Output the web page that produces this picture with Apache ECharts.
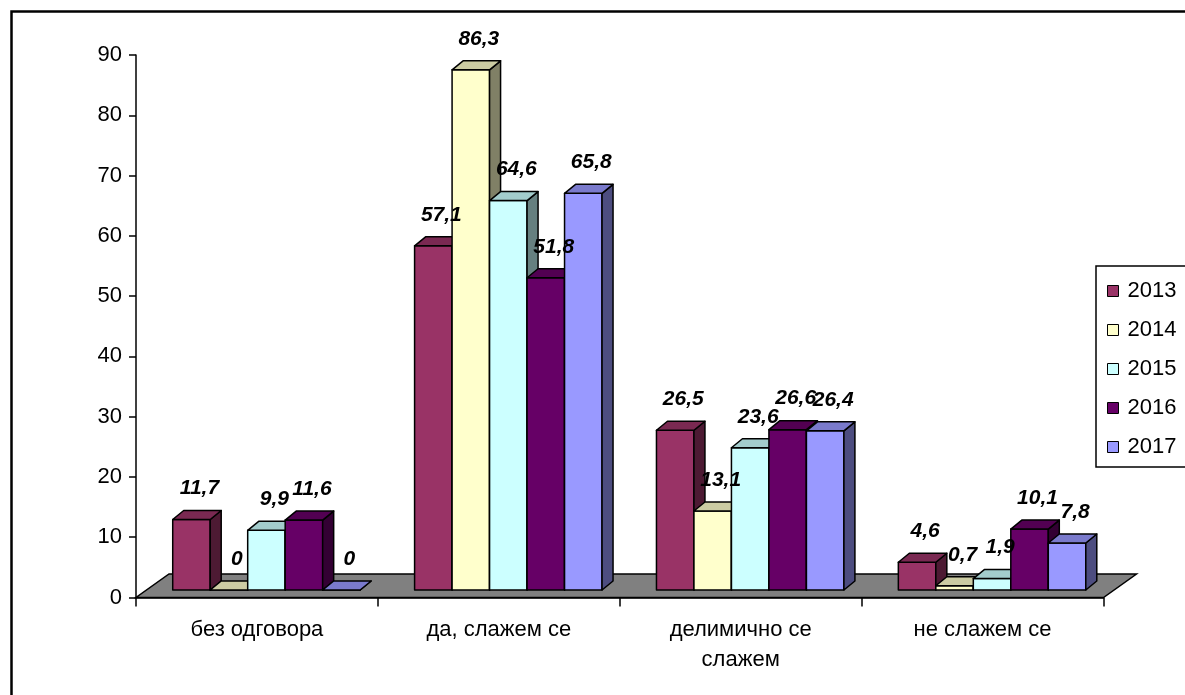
<!DOCTYPE html>
<html>
<head>
<meta charset="utf-8">
<script src="https://cdn.jsdelivr.net/npm/echarts@6/dist/echarts.min.js"></script>
<style>
  html, body { margin: 0; padding: 0; background: #fff; }
  #chart { width: 1185px; height: 695px; }
</style>
</head>
<body>
<div id="chart"></div>
<script>
// Survey answers by year
const categories = ['без одговора', 'да, слажем се', 'делимично се\nслажем', 'не слажем се'];
const years = ['2013', '2014', '2015', '2016', '2017'];
const v2013 = [11.7, 57.1, 26.5, 4.6];
const v2014 = [0, 86.3, 13.1, 0.7];
const v2015 = [9.9, 64.6, 23.6, 1.9];
const v2016 = [11.6, 51.8, 26.6, 10.1];
const v2017 = [0, 65.8, 26.4, 7.8];
const seriesValues = [v2013, v2014, v2015, v2016, v2017];

const yMin = 0, yMax = 90, yStep = 10;

// front / top / side face colours of each year's columns
const frontColors = ['#993366', '#FFFFCC', '#CCFFFF', '#660066', '#9999FF'];
const topColors   = ['#7A2952', '#CCCCA3', '#A3CCCC', '#520052', '#7A7ACC'];
const sideColors  = ['#4D1A33', '#808066', '#668080', '#330033', '#4D4D80'];

const FONT = '"Liberation Sans", Arial, sans-serif';

// pseudo-3D geometry (pixels)
const BAR_FRAC = 0.155;                 // column width as a share of a category band
const FRONT_DX = 9.5, FRONT_DY = -7.5;  // column front plane vs. floor front edge
const DEPTH_DX = 11, DEPTH_DY = -9;     // column depth
const FLOOR_DX = 33, FLOOR_DY = -23.5;  // floor depth

function fmt(v) { return String(v).replace('.', ','); }

function barRenderer(si) {
  return function (params, api) {
    const ci = api.value(0), v = api.value(1);
    const band = api.size([1, 0])[0];
    const w = band * BAR_FRAC;
    const base = api.coord([ci, 0]);
    const top = api.coord([ci, v]);
    const x0 = base[0] - 2.5 * w + si * w + FRONT_DX;
    const x1 = x0 + w;
    const yb = base[1] + FRONT_DY;
    const yt = top[1] + FRONT_DY;
    const stroke = { stroke: '#000', lineWidth: 1.5, lineJoin: 'round' };
    return {
      type: 'group',
      children: [
        { type: 'polygon', z2: si * 3,
          shape: { points: [[x0, yb], [x1, yb], [x1, yt], [x0, yt]] },
          style: Object.assign({ fill: frontColors[si] }, stroke) },
        { type: 'polygon', z2: si * 3 + 1,
          shape: { points: [[x1, yb], [x1 + DEPTH_DX, yb + DEPTH_DY], [x1 + DEPTH_DX, yt + DEPTH_DY], [x1, yt]] },
          style: Object.assign({ fill: sideColors[si] }, stroke) },
        { type: 'polygon', z2: si * 3 + 2,
          shape: { points: [[x0, yt], [x1, yt], [x1 + DEPTH_DX, yt + DEPTH_DY], [x0 + DEPTH_DX, yt + DEPTH_DY]] },
          style: Object.assign({ fill: topColors[si] }, stroke) },
        { type: 'text', z2: 100,
          x: (x0 + x1) / 2 + 8, y: yt - 31,
          style: { text: fmt(v), fill: '#000', font: 'italic bold 21px ' + FONT,
                   align: 'center', verticalAlign: 'middle' } }
      ]
    };
  };
}

function floorRenderer(params, api) {
  const band = api.size([1, 0])[0];
  const a = api.coord([0, 0]);
  const b = api.coord([categories.length - 1, 0]);
  const xl = a[0] - band / 2, xr = b[0] + band / 2, y = a[1];
  return {
    type: 'polygon', z2: -10,
    shape: { points: [[xl, y], [xr, y], [xr + FLOOR_DX, y + FLOOR_DY], [xl + FLOOR_DX, y + FLOOR_DY]] },
    style: { fill: '#808080', stroke: '#000', lineWidth: 1.5 }
  };
}

const series = [{
  type: 'custom', name: 'floor', renderItem: floorRenderer,
  data: [[0, 0]], encode: { x: 0, y: 1 }, clip: false, silent: true, z: 1
}];
years.forEach(function (yr, si) {
  series.push({
    type: 'custom', name: yr,
    renderItem: barRenderer(si),
    data: seriesValues[si].map(function (v, i) { return [i, v]; }),
    encode: { x: 0, y: 1 },
    itemStyle: { color: frontColors[si] },
    clip: false, z: 2
  });
});

const chart = echarts.init(document.getElementById('chart'), null, { renderer: 'canvas' });
chart.setOption({
  animation: false,
  backgroundColor: '#fff',
  grid: { left: 136, right: 81.5, top: 55, bottom: 97.5, containLabel: false },
  xAxis: {
    type: 'category', data: categories, boundaryGap: true,
    axisLine: { show: true, lineStyle: { color: '#000', width: 1.5 } },
    axisTick: { show: true, length: 9, lineStyle: { color: '#000', width: 1.5 } },
    axisLabel: { color: '#000', fontSize: 22, fontFamily: FONT, margin: 17, lineHeight: 30, interval: 0 },
    z: 0
  },
  yAxis: {
    type: 'value', min: yMin, max: yMax, interval: yStep,
    axisLine: { show: true, lineStyle: { color: '#000', width: 1.5 } },
    axisTick: { show: true, length: 7, lineStyle: { color: '#000', width: 1.5 } },
    axisLabel: { color: '#000', fontSize: 22, fontFamily: FONT, margin: 14 },
    splitLine: { show: false }
  },
  legend: {
    data: years, orient: 'vertical', left: 1096, top: 266,
    icon: 'rect', itemWidth: 11, itemHeight: 11, itemGap: 17,
    padding: [14, 30, 9, 11],
    borderColor: '#000', borderWidth: 1.5, backgroundColor: '#fff',
    itemStyle: { borderColor: '#000', borderWidth: 1 },
    textStyle: { color: '#000', fontSize: 22, fontFamily: FONT, lineHeight: 20, padding: [0, 0, 0, 4] },
    selectedMode: false
  },
  graphic: [{
    type: 'rect', left: 9, top: 9, silent: true,
    shape: { width: 1200, height: 720 },
    style: { fill: 'none', stroke: '#000', lineWidth: 2.5 }
  }],
  series: series
});
</script>
</body>
</html>
